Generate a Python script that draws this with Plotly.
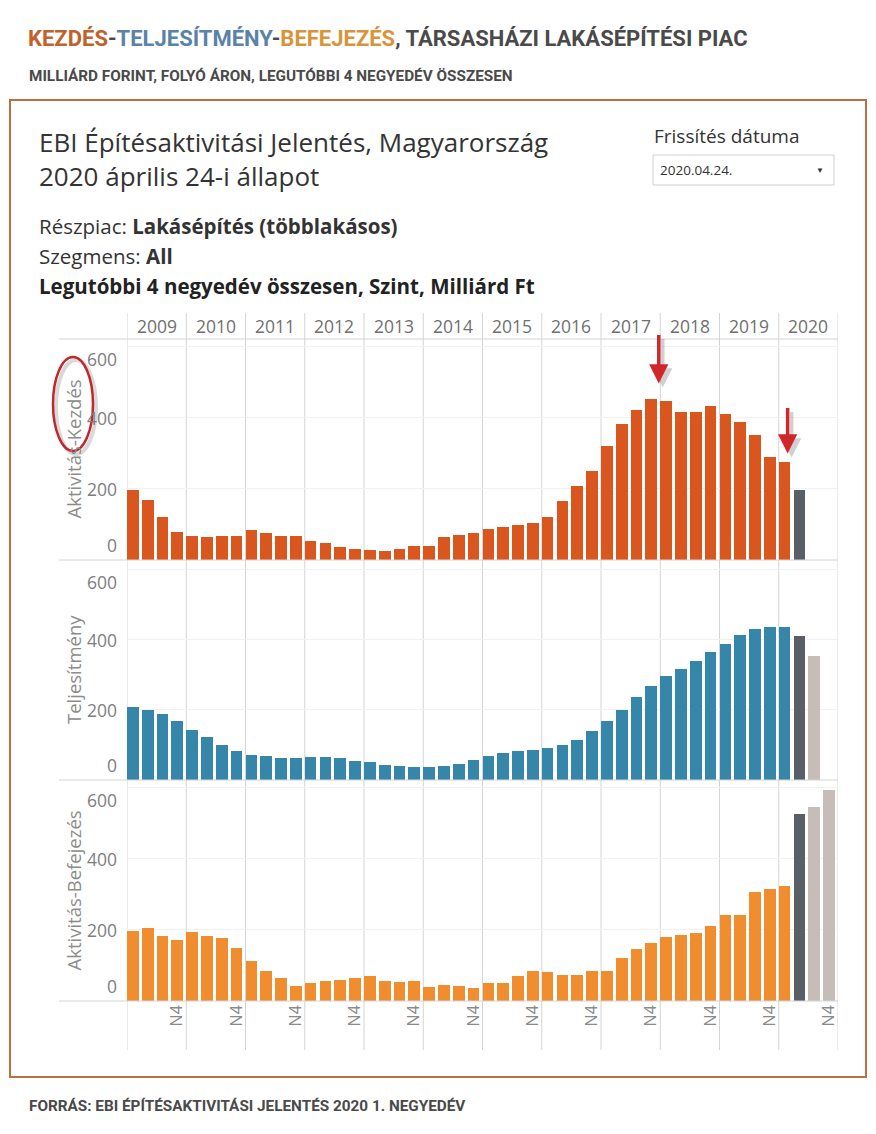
import plotly.graph_objects as go

W, H = 876, 1134

# ---------------- data ----------------
years = list(range(2009, 2021))
quarter_labels = [f"{y} N{q}" for y in years for q in range(1, 5)]
y_ticks = [0, 200, 400, 600]

kezdes = [197, 169, 122, 78, 68, 64, 68, 68, 85, 75, 68, 68, 54, 47, 36, 32,
          29, 25, 32, 39, 39, 64, 70, 75, 88, 92, 99, 103, 120, 166, 208, 251,
          320, 384, 423, 454, 448, 416, 416, 433, 412, 388, 352, 290, 275]
kezdes_dark = [197]

teljesitmeny = [208, 201, 187, 169, 144, 122, 101, 83, 72, 69, 62, 62, 65, 65, 62, 54,
                50, 44, 40, 36, 36, 40, 47, 58, 69, 76, 83, 87, 90, 101, 115, 140,
                169, 201, 236, 268, 296, 318, 340, 365, 389, 414, 432, 436, 436]
teljesitmeny_dark = [411]
teljesitmeny_light = [354]

befejezes = [198, 205, 184, 173, 193, 184, 177, 148, 114, 85, 64, 42, 50, 57, 60, 64,
             71, 57, 54, 57, 39, 46, 42, 36, 50, 50, 70, 85, 81, 74, 74, 85,
             85, 120, 145, 162, 180, 187, 191, 212, 243, 243, 306, 314, 324]
befejezes_dark = [526]
befejezes_light = [546, 595]

panel_titles = ["Aktivitás-Kezdés", "Teljesítmény", "Aktivitás-Befejezés"]

# ---------------- style ----------------
C_KEZD = "#D9561F"
C_TELJ = "#3586A8"
C_BEF = "#F08D2F"
C_DARK = "#5A5E66"
C_LIGHT = "#C6BDB9"
GRID = "#D4D4D4"
FONT = "Open Sans, sans-serif"
HEAD = "Roboto, sans-serif"


def px(x):
    return x / W


def py(y):
    return 1 - y / H


BAR_W = 0.79
X0, X1 = 127, 838
panels = [(339, 560, 622), (560, 780, 628), (780, 1001, 622)]

fig = go.Figure()


def add_bars(vals, start, color, axis_idx):
    xs = list(range(start, start + len(vals)))
    fig.add_trace(go.Bar(
        x=xs, y=vals, width=BAR_W, offset=0,
        marker=dict(color=color, line=dict(width=0)),
        xaxis="x" if axis_idx == 1 else f"x{axis_idx}",
        yaxis="y" if axis_idx == 1 else f"y{axis_idx}",
        customdata=[quarter_labels[i] for i in xs],
        hovertemplate="%{customdata}: %{y}<extra></extra>",
        showlegend=False,
    ))


n = len(kezdes)
add_bars(kezdes, 0, C_KEZD, 1)
add_bars(kezdes_dark, n, C_DARK, 1)
add_bars(teljesitmeny, 0, C_TELJ, 2)
add_bars(teljesitmeny_dark, n, C_DARK, 2)
add_bars(teljesitmeny_light, n + 1, C_LIGHT, 2)
add_bars(befejezes, 0, C_BEF, 3)
add_bars(befejezes_dark, n, C_DARK, 3)
add_bars(befejezes_light, n + 1, C_LIGHT, 3)

layout = dict(
    width=W, height=H,
    margin=dict(l=0, r=0, t=0, b=0),
    paper_bgcolor="white", plot_bgcolor="white",
    bargap=0, showlegend=False,
    font=dict(family=FONT, color="#333333"),
)

n_slots = len(years) * 4
q4_pos = [4 * k + 3 + BAR_W / 2 for k in range(len(years))]
for i, (top, bot, ymax) in enumerate(panels, start=1):
    xa = dict(domain=[px(X0), px(X1)], range=[0, n_slots], showgrid=False,
              zeroline=False, showline=False, fixedrange=True,
              anchor="y" if i == 1 else f"y{i}")
    if i == 3:
        xa.update(tickmode="array", tickvals=q4_pos, ticktext=["N4"] * len(years),
                  tickangle=-90, ticks="", showticklabels=True,
                  tickfont=dict(size=16, color="#8A8A8A", family=FONT))
    else:
        xa.update(showticklabels=False, ticks="")
    ya = dict(domain=[py(bot), py(top)], range=[0, ymax], showgrid=True,
              gridcolor="#F1F1F1", gridwidth=1, tickvals=y_ticks,
              showticklabels=False, zeroline=False, showline=False,
              fixedrange=True, anchor="x" if i == 1 else f"x{i}")
    layout["xaxis" if i == 1 else f"xaxis{i}"] = xa
    layout["yaxis" if i == 1 else f"yaxis{i}"] = ya

fig.update_layout(**layout)

shapes = []
annotations = []


def note(x, y, text, size, color="#333333", family=FONT, xanchor="left",
         yanchor="middle", **kw):
    d = dict(xref=kw.pop("xref", "paper"), yref=kw.pop("yref", "paper"), x=x, y=y,
             text=text, showarrow=False, xanchor=xanchor, yanchor=yanchor,
             font=dict(size=size, color=color, family=family))
    d.update(kw)
    annotations.append(d)


# outer border
shapes.append(dict(type="rect", xref="paper", yref="paper",
                   x0=px(10), x1=px(866), y0=py(1077), y1=py(100),
                   line=dict(color="#B8713F", width=2), fillcolor="rgba(0,0,0,0)"))

# year separators (vertical)
for k in range(len(years) + 1):
    shapes.append(dict(type="line", xref="x", yref="paper", x0=4 * k, x1=4 * k,
                       y0=py(1050), y1=py(313), line=dict(color=GRID, width=1), layer="below"))

# horizontal separators
for yy in [339, 560, 780, 1001]:
    shapes.append(dict(type="line", xref="paper", yref="paper", x0=px(59), x1=px(X1),
                       y0=py(yy), y1=py(yy), line=dict(color=GRID, width=1)))

# year header labels
for k, yr in enumerate(years):
    note(4 * k + 2, py(326), str(yr), 17.5, "#707070", xanchor="center", xref="x")

# y tick labels and axis titles
for i, (top, bot, ymax) in enumerate(panels, start=1):
    yr_ = "y" if i == 1 else f"y{i}"
    for t in y_ticks:
        shift, ya_ = 0, "middle"
        if t == 0:
            ya_, shift = "bottom", 1
        elif t == max(y_ticks):
            ya_, shift = "top", 2
        note(px(119), t, str(t), 17.5, "#7E7E7E", xanchor="right", yanchor=ya_,
             yref=yr_, yshift=shift)
    note(px(73), py((top + bot) / 2), panel_titles[i - 1], 18.5, "#8C8C8C",
         xanchor="center", textangle=-90)

# red arrows (with soft shadow)
for xa_, ya_, ay in [(35.9, 497, -50), (44.6, 300, -47)]:
    annotations.append(dict(xref="x", yref="y", x=xa_, y=ya_, ax=0, ay=ay,
                            xshift=4, yshift=-4,
                            showarrow=True, arrowhead=2, arrowsize=1.1, arrowwidth=3.5,
                            arrowcolor="rgba(0,0,0,0.18)", text=""))
    annotations.append(dict(xref="x", yref="y", x=xa_, y=ya_, ax=0, ay=ay,
                            showarrow=True, arrowhead=2, arrowsize=1.1, arrowwidth=3.5,
                            arrowcolor="#D0282A", text=""))

# red ellipse around first axis title (with soft shadow)
shapes.append(dict(type="circle", xref="paper", yref="paper",
                   x0=px(56), x1=px(96), y0=py(454), y1=py(360),
                   line=dict(color="rgba(0,0,0,0.15)", width=4)))
shapes.append(dict(type="circle", xref="paper", yref="paper",
                   x0=px(53), x1=px(93), y0=py(451), y1=py(357),
                   line=dict(color="#C0282D", width=2.5)))

# header titles
note(px(26), py(38),
     ('<b><span style="color:#C0622B">KEZDÉS</span>-'
      '<span style="color:#5B82A8">TELJESÍTMÉNY</span>-'
      '<span style="color:#D9943B">BEFEJEZÉS</span>, TÁRSASHÁZI LAKÁSÉPÍTÉSI PIAC</b>'),
     22, "#4A4A4A", HEAD)
note(px(27), py(76), "<b>MILLIÁRD FORINT, FOLYÓ ÁRON, LEGUTÓBBI 4 NEGYEDÉV ÖSSZESEN</b>",
     15.3, "#4A4A4A", HEAD)
note(px(27), py(1106), "<b>FORRÁS: EBI ÉPÍTÉSAKTIVITÁSI JELENTÉS 2020 1. NEGYEDÉV</b>",
     15.3, "#4A4A4A", HEAD)

# dashboard texts
note(px(37), py(142), "EBI Építésaktivitási Jelentés, Magyarország", 26)
note(px(37), py(176), "2020 április 24-i állapot", 26)
note(px(652), py(136), "Frissítés dátuma", 19)
shapes.append(dict(type="rect", xref="paper", yref="paper",
                   x0=px(653), x1=px(834), y0=py(185), y1=py(155),
                   line=dict(color="#CFCFCF", width=1), fillcolor="white"))
note(px(658), py(170), "2020.04.24.", 13.5)
note(px(820), py(170), "▼", 8, xanchor="center")

note(px(37), py(226), "Részpiac: <b>Lakásépítés (többlakásos)</b>", 20.5)
note(px(37), py(256), "Szegmens: <b>All</b>", 20.5)
note(px(37), py(286), "<b>Legutóbbi 4 negyedév összesen, Szint, Milliárd Ft</b>", 20.5,
     "#222222")

fig.update_layout(shapes=shapes, annotations=annotations)
fig.write_html("out.html", config={"displayModeBar": False},
               post_script="document.body.style.margin='0px';")
